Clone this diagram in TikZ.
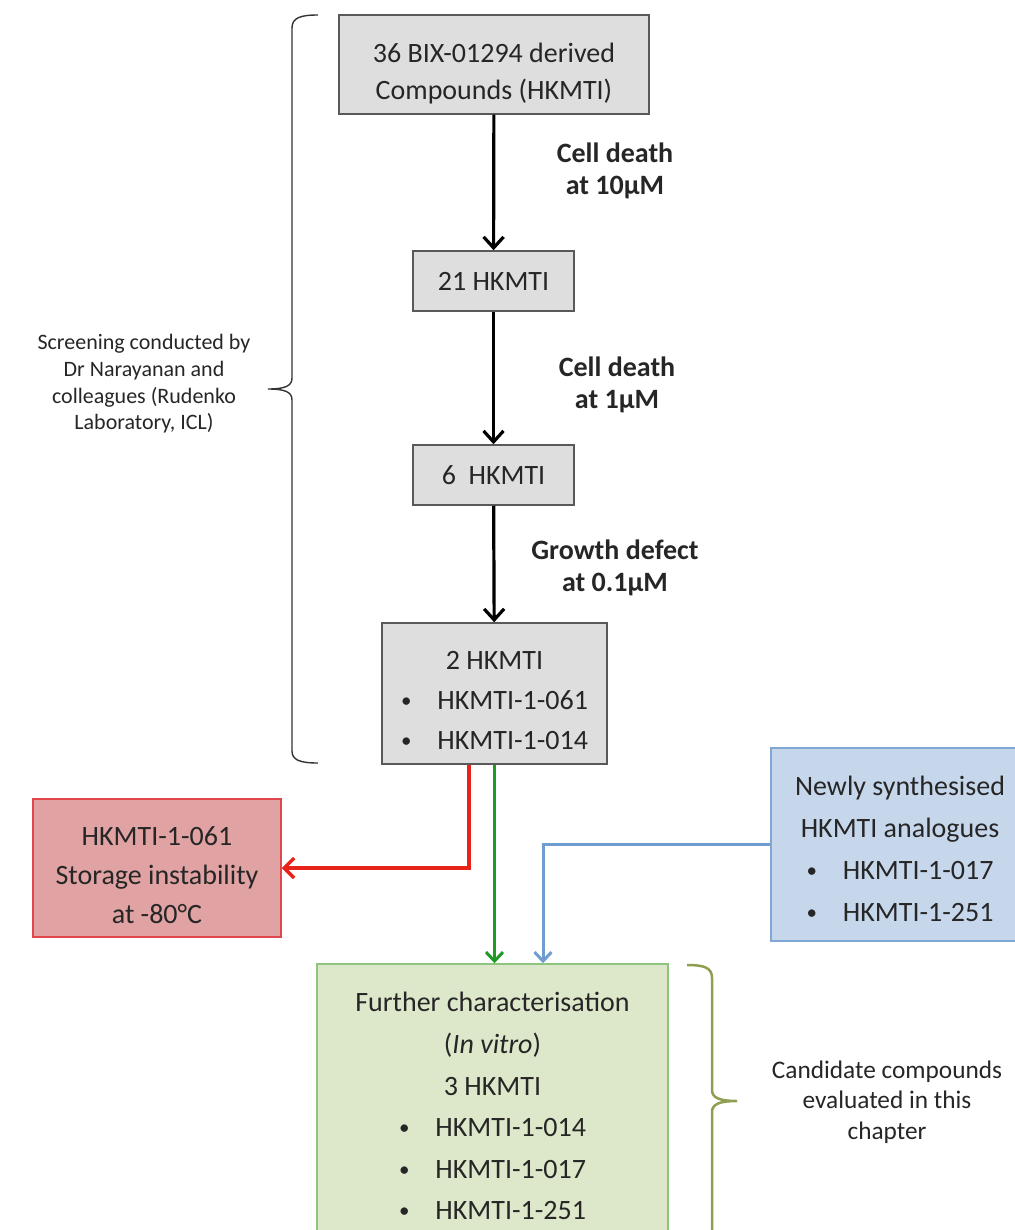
\documentclass[tikz,border=0pt]{standalone}
\usepackage{fontspec}
\setmainfont{Carlito}
\usetikzlibrary{arrows.meta, positioning}
\definecolor{CText}{HTML}{262626}
\definecolor{CGrayFill}{HTML}{DEDEDE}
\definecolor{CGrayLine}{HTML}{595959}
\definecolor{CRedFill}{HTML}{E0A2A3}
\definecolor{CRedLine}{HTML}{E0474C}
\definecolor{CBlueFill}{HTML}{C6D7EC}
\definecolor{CBlueLine}{HTML}{7FA7D6}
\definecolor{CGreenFill}{HTML}{DDE7C9}
\definecolor{CGreenLine}{HTML}{8DC47E}
\definecolor{CBraceGreen}{HTML}{8E9F52}
\definecolor{CBraceGray}{HTML}{333333}
\definecolor{CArrowRed}{HTML}{E8241A}
\definecolor{CArrowGreen}{HTML}{1F9A24}
\definecolor{CArrowBlue}{HTML}{6F9DD2}

\newcommand{\hkbullet}{\raisebox{2pt}{\fontsize{21}{21}\selectfont\textbullet}\hspace{26pt}}

\tikzset{
    graybox/.style={draw=CGrayLine, line width=1.5pt, fill=CGrayFill, text=CText, align=center, inner sep=0pt, font=\fontsize{28}{40}\selectfont},
    outbox/.style={line width=1.5pt, text=CText, align=center, inner sep=0pt},
    flow/.style={line width=3.2pt, -{Straight Barb[length=11pt, width=20pt]}},
    steplabel/.style={font=\bfseries\fontsize{28}{32}\selectfont, text=CText, align=center},
    bracenote/.style={text=CText, align=center},
}

\begin{document}
\begin{tikzpicture}[x=1pt, y=-1pt]
    \useasboundingbox (0, 0) rectangle (1014, 1230);

    % Screening cascade
    \node[graybox, minimum width=310pt, minimum height=99pt, font=\fontsize{28}{37}\selectfont] (compounds) at (494, 64.5) {\rule{0pt}{38pt}36 BIX-01294 derived\\Compounds (HKMTI)};
    \node[graybox, minimum width=161pt, minimum height=60pt] (hk21) at (493.5, 281) {21 HKMTI};
    \node[graybox, minimum width=161pt, minimum height=60pt] (hk6) at (493.5, 475) {6\ \ HKMTI};
    \node[graybox, minimum width=225pt, minimum height=141pt] (hk2) at (494.5, 693.5) {\rule{0pt}{32pt}2 HKMTI\\\hkbullet HKMTI-1-061\\\hkbullet HKMTI-1-014};

    % Screening criteria
    \node[steplabel] (death10) at (615, 170.5) {Cell death\\at 10μM};
    \node[steplabel] (death1) at (617, 385) {Cell death\\at 1μM};
    \node[steplabel] (growth) at (615, 568) {Growth defect\\at 0.1μM};

    \draw[flow] (compounds) -- (hk21);
    \draw[flow] (hk21) -- (hk6);
    \draw[flow] (hk6) -- (hk2);

    % Outcome boxes
    \node[outbox, fill=CRedFill, draw=CRedLine, minimum width=248pt, minimum height=138pt, font=\fontsize{28}{39}\selectfont] (unstable) at (157, 868) {\rule{0pt}{34pt}HKMTI-1-061\\Storage instability\\at -80°C};
    \node[outbox, fill=CBlueFill, draw=CBlueLine, minimum width=258pt, minimum height=193pt, font=\fontsize{28}{42}\selectfont] (analogues) at (900, 844.5) {\rule{0pt}{28pt}Newly synthesised\\HKMTI analogues\\\hkbullet HKMTI-1-017\\\hkbullet HKMTI-1-251};
    \node[outbox, fill=CGreenFill, draw=CGreenLine, minimum width=351pt, minimum height=274pt, font=\fontsize{28}{41.6}\selectfont] (further) at (492.5, 1101) {\rule{0pt}{30pt}Further characterisation\\(\textit{In vitro})\\3 HKMTI\\\hkbullet HKMTI-1-014\\\hkbullet HKMTI-1-017\\\hkbullet HKMTI-1-251};

    % Coloured connectors
    \draw[line width=3.5pt, CArrowRed, -{Straight Barb[length=10pt, width=20pt]}] ([xshift=-25.5pt]hk2.south) |- (unstable.east);
    \draw[line width=3pt, CArrowGreen, -{Straight Barb[length=9pt, width=17pt]}] (hk2.south) -- (hk2.south |- further.north);
    \draw[line width=3pt, CArrowBlue, -{Straight Barb[length=9pt, width=17pt]}] (analogues.west) -| ([xshift=50.5pt]further.north);

    % Braces and their notes
    \draw[CBraceGray, line width=1.4pt] (318, 15) .. controls (300, 15) and (292, 18) .. (292, 28) -- (292, 378)
        .. controls (292, 386) and (285, 389) .. (268, 389) .. controls (285, 389) and (292, 392) .. (292, 400)
        -- (292, 751) .. controls (292, 760) and (300, 763) .. (318, 763);
    \node[bracenote, font=\fontsize{22}{26.7}\selectfont] (screening) at (144, 384) {Screening conducted by\\Dr Narayanan and\\colleagues (Rudenko\\Laboratory, ICL)};

    \draw[CBraceGreen, line width=2.5pt] (687, 965) .. controls (705, 965) and (712, 968) .. (712, 978) -- (712, 1090)
        .. controls (712, 1098) and (720, 1101) .. (737, 1101) .. controls (720, 1101) and (712, 1104) .. (712, 1112)
        -- (712, 1240);
    \node[bracenote, font=\fontsize{25.3}{30.5}\selectfont] (candidates) at (887, 1102) {Candidate compounds\\evaluated in this\\chapter};
\end{tikzpicture}
\end{document}
